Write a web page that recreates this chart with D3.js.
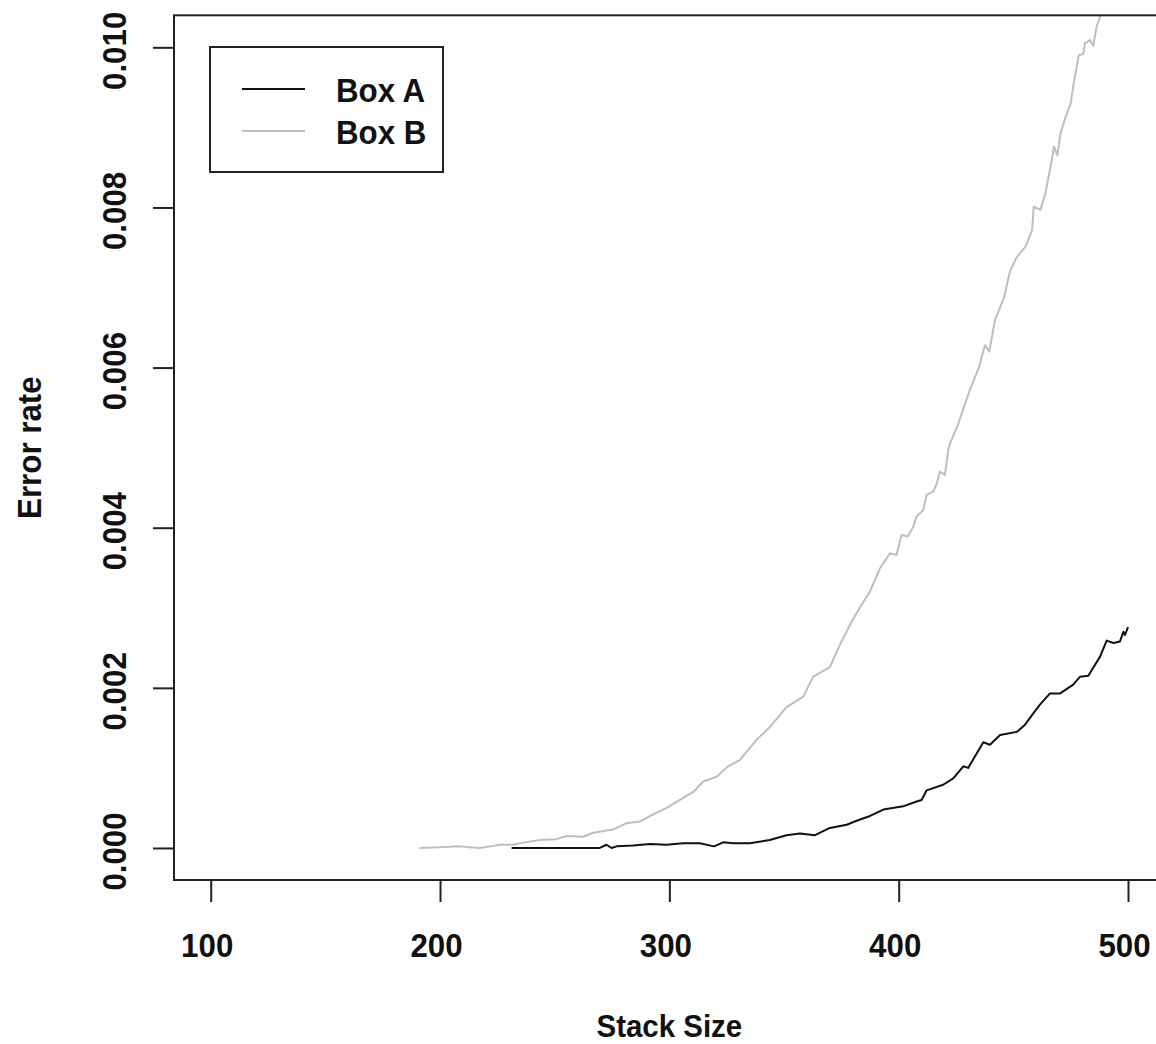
<html><head>
<title>Error rate vs stack size</title>
<script src="https://d3js.org/d3.v7.min.js"></script>
<style>
  body { margin: 0; background: white; }
  text { font-family: "Liberation Sans", Arial, sans-serif; font-weight: bold; fill: #111; }
</style>
</head>
<body>
<svg id="chart" width="1156" height="1044"></svg>
<script>
  // series: [stack size, error rate]
  const boxA = [
    [231.2, 0], [245, 0], [258, 0], [269.7, 0], [272.6, 0.00004], [274.8, 0], [277, 0.00002],
    [284.2, 0.00003], [291.5, 0.00005], [298.8, 0.00004], [306, 0.00006], [313.3, 0.00006],
    [319.5, 0.00002], [323.5, 0.00007], [327.8, 0.00006], [335.1, 0.00006], [343.8, 0.0001],
    [351.1, 0.00016], [356.9, 0.00018], [363.5, 0.00016], [370, 0.00025], [377.3, 0.00029],
    [381.7, 0.00034], [387.5, 0.0004], [393.3, 0.00048], [402, 0.00052], [407.8, 0.00058],
    [410, 0.0006], [412.2, 0.00072], [419.4, 0.00079], [423.8, 0.00087], [428.2, 0.00102],
    [430.3, 0.001], [436.9, 0.00132], [439.8, 0.00129], [444.2, 0.00141], [451.5, 0.00145],
    [455.1, 0.00154], [458.7, 0.00168], [461.6, 0.00179], [466, 0.00193], [470.4, 0.00193],
    [476.1, 0.00204], [479.1, 0.00214], [482.7, 0.00215], [487.8, 0.00239], [490.7, 0.00259],
    [493.6, 0.00256], [496.5, 0.00258], [498, 0.0027], [498.7, 0.00266], [500, 0.00276]
  ];
  const boxB = [
    [191, 0], [200, 0.00001], [208.6, 0.00002], [213, 0.00001], [217.3, 0], [222, 0.00002],
    [226, 0.00004], [231.7, 0.00004], [237, 0.00007], [243.5, 0.0001], [250.8, 0.00011],
    [255.2, 0.00015], [262.4, 0.00014], [266.8, 0.00019], [275.5, 0.00023], [281.3, 0.00031],
    [287.1, 0.00033], [292.9, 0.00042], [298.8, 0.0005], [304.6, 0.0006], [310.4, 0.0007],
    [314.8, 0.00083], [320.6, 0.00089], [325.7, 0.00102], [330.8, 0.0011], [338, 0.00135],
    [343.8, 0.00151], [351.1, 0.00176], [358.4, 0.00189], [362.7, 0.00214], [370, 0.00226],
    [374.4, 0.00254], [379, 0.0028], [383, 0.003], [387.4, 0.0032], [391.8, 0.00349],
    [396.2, 0.00368], [399, 0.00366], [401.3, 0.00391], [404, 0.00389], [406.3, 0.00401],
    [407.8, 0.00414], [410.7, 0.00422], [412.2, 0.00441], [415.1, 0.00445], [416.6, 0.00455],
    [418, 0.0047], [420.2, 0.00466], [421.6, 0.00497], [422.4, 0.00505], [426, 0.0053],
    [431, 0.00572], [435, 0.006], [437.6, 0.00628], [439.5, 0.0062], [442, 0.0066],
    [445.9, 0.00687], [448.5, 0.0072], [451.5, 0.00738], [455.3, 0.00751], [458.2, 0.00772],
    [458.9, 0.00801], [461.8, 0.00797], [464, 0.00818], [466.2, 0.00851], [467.7, 0.00876],
    [469.2, 0.00865], [470.6, 0.00893], [472.8, 0.00913], [475, 0.0093], [476.3, 0.00955],
    [478.5, 0.0099], [480.5, 0.00992], [481.2, 0.01005], [483.4, 0.01009], [484.9, 0.01002],
    [486.3, 0.01026], [487.8, 0.01038], [490, 0.0107], [495, 0.0112], [500, 0.0118]
  ];
  const xTicks = [100, 200, 300, 400, 500];
  const yTicks = [0, 0.002, 0.004, 0.006, 0.008, 0.010];
  const seriesNames = ["Box A", "Box B"];
  const seriesColors = ["#111111", "#bebebe"];

  const svg = d3.select("svg#chart");
  const plot = { left: 174, top: 15.3, right: 1164.7, bottom: 880 };

  // R style 4% padding around xlim = c(100,500), ylim = c(0,0.01)
  const x = d3.scaleLinear().domain([84, 516]).range([plot.left, plot.right]);
  const y = d3.scaleLinear().domain([-0.0004, 0.0104]).range([plot.bottom, plot.top]);

  // squeeze text a bit, like the narrow font of the original
  const squeeze = function(sel) {
    sel.each(function() {
      const w = this.getComputedTextLength();
      d3.select(this).attr("textLength", w * 0.92).attr("lengthAdjust", "spacingAndGlyphs");
    });
  };

  svg.append("clipPath").attr("id", "clip")
    .append("rect")
    .attr("x", plot.left).attr("y", plot.top)
    .attr("width", plot.right - plot.left).attr("height", plot.bottom - plot.top);

  const line = d3.line().x(d => x(d[0])).y(d => y(d[1]));

  svg.append("g").attr("clip-path", "url(#clip)")
    .selectAll("path.series")
    .data([boxB, boxA])
    .join("path")
      .attr("class", "series")
      .attr("fill", "none")
      .attr("stroke", (d, i) => i == 0 ? seriesColors[1] : seriesColors[0])
      .attr("stroke-width", 2)
      .attr("stroke-linejoin", "round")
      .attr("d", line);

  // x axis
  const xAxis = svg.append("g")
    .attr("transform", `translate(0,${plot.bottom})`)
    .call(d3.axisBottom(x).tickValues(xTicks).tickSize(22).tickFormat(d3.format("d")));
  xAxis.select(".domain").remove();
  xAxis.attr("font-family", null);
  xAxis.selectAll(".tick line").attr("stroke", "#222").attr("stroke-width", 2);
  xAxis.selectAll(".tick text")
    .attr("x", -4).attr("y", 77).attr("dy", null)
    .attr("font-size", 34)
    .call(squeeze);

  // y axis
  const yAxis = svg.append("g")
    .attr("transform", `translate(${plot.left},0)`)
    .call(d3.axisLeft(y).tickValues(yTicks).tickSize(21).tickFormat(d3.format(".3f")));
  yAxis.select(".domain").remove();
  yAxis.attr("font-family", null);
  yAxis.selectAll(".tick line").attr("stroke", "#222").attr("stroke-width", 2);
  yAxis.selectAll(".tick text")
    .attr("x", null).attr("dy", null)
    .attr("text-anchor", "middle")
    .attr("font-size", 34)
    .attr("transform", "translate(-48,3) rotate(-90)")
    .call(squeeze);

  // plot frame
  svg.append("rect")
    .attr("x", plot.left).attr("y", plot.top)
    .attr("width", plot.right - plot.left).attr("height", plot.bottom - plot.top)
    .attr("fill", "none").attr("stroke", "#222").attr("stroke-width", 2);

  // axis titles
  svg.append("text")
    .attr("x", (plot.left + plot.right) / 2).attr("y", 1037)
    .attr("text-anchor", "middle").attr("font-size", 32)
    .text("Stack Size").call(squeeze);
  svg.append("text")
    .attr("transform", `translate(41,${(plot.top + plot.bottom) / 2}) rotate(-90)`)
    .attr("text-anchor", "middle").attr("font-size", 34)
    .text("Error rate").call(squeeze);

  // legend
  const legend = svg.append("g");
  legend.append("rect")
    .attr("x", 210).attr("y", 47).attr("width", 233).attr("height", 125)
    .attr("fill", "white").attr("stroke", "#222").attr("stroke-width", 2);
  const items = legend.selectAll("g.item").data(seriesNames)
    .join("g").attr("class", "item")
    .attr("transform", (d, i) => `translate(0,${89 + i * 42})`);
  items.append("line")
    .attr("x1", 242).attr("x2", 305)
    .attr("stroke", (d, i) => seriesColors[i]).attr("stroke-width", 2);
  items.append("text")
    .attr("x", 336).attr("y", 13)
    .attr("font-size", 34)
    .text(d => d)
    .call(squeeze);
</script>
</body>
</html>
